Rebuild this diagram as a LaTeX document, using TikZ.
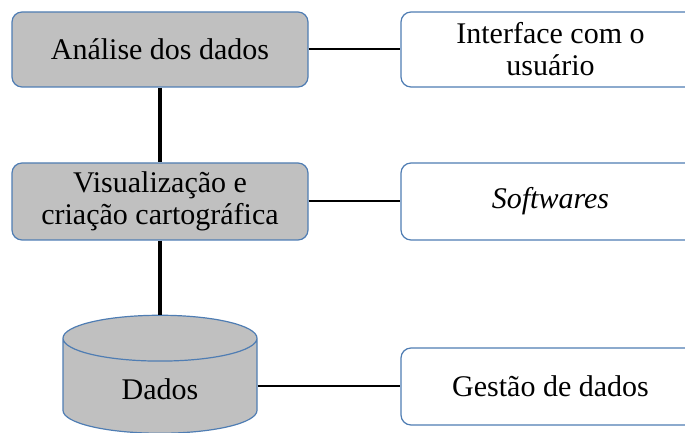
\documentclass[tikz,border=0pt]{standalone}
\usepackage{fontspec}
\setmainfont{Liberation Serif}
\newfontfamily\boxfont{Liberation Serif}
\usetikzlibrary{shapes.geometric}

\begin{document}
\begin{tikzpicture}[x=1pt,y=1pt,
    box/.style={draw=boxblue, line width=1.2pt, rounded corners=10pt, align=center,
      font=\boxfont\fontsize{30}{32}\selectfont},
    greybox/.style={box, fill=boxgrey, minimum width=296pt},
    whitebox/.style={box, fill=white, minimum width=299pt}]
    \definecolor{boxblue}{HTML}{4F7DB3}
    \definecolor{boxgrey}{HTML}{C0C0C0}
    \useasboundingbox (0,0) rectangle (685,433);
    \clip (0,0) rectangle (685,433);
    \node[greybox, minimum height=75pt] (analise) at (160,383.5) {Análise dos dados};
    \node[greybox, minimum height=77pt] (visual) at (160,231.5) {Visualização e\\criação cartográfica};
    \node[cylinder, shape border rotate=90, aspect=0.55, draw=boxblue, line width=1.2pt, fill=boxgrey,
      minimum width=194pt, minimum height=118pt, font=\boxfont\fontsize{30}{32}\selectfont] (dados) at (160,44) {Dados};
    \node[whitebox, minimum height=75pt] (interface) at (550.5,383.5) {Interface com o\\usuário};
    \node[whitebox, minimum height=77pt] (softwares) at (550.5,231.5) {\textit{Softwares}};
    \node[whitebox, minimum height=77pt] (gestao) at (550.5,46.5) {Gestão de dados};
    \draw[line width=4pt] (analise) -- (visual);
    \draw[line width=4pt] (visual) -- (dados.top);
    \draw[line width=2pt] (analise) -- (interface);
    \draw[line width=2pt] (visual) -- (softwares);
    \draw[line width=2pt] (dados.east |- gestao) -- (gestao);
\end{tikzpicture}
\end{document}
